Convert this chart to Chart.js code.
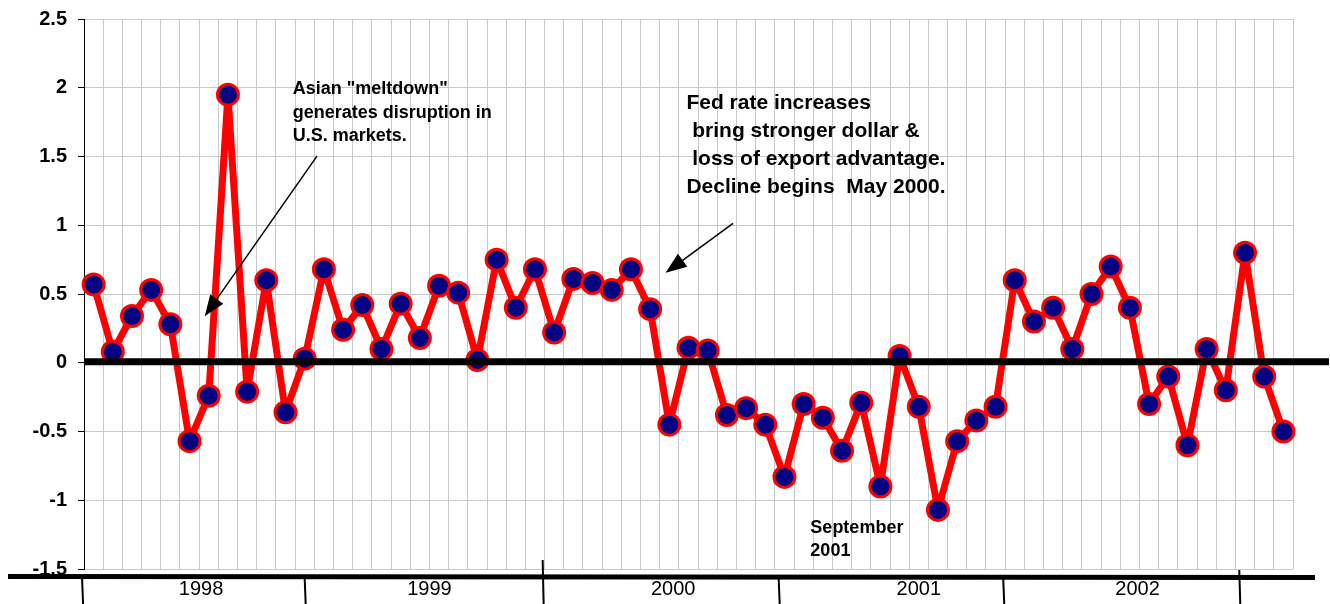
<!DOCTYPE html>
<html>
<head>
<meta charset="utf-8">
<script src="https://cdn.jsdelivr.net/npm/chart.js@4.4.1/dist/chart.umd.min.js"></script>
<style>
  html, body { margin: 0; padding: 0; background: #fff; }
</style>
</head>
<body>
<canvas id="chart" width="1330" height="604"></canvas>
<script>
// Categories: one per month, Jan 1998 .. Mar 2003
const monthNames = ['Jan', 'Feb', 'Mar', 'Apr', 'May', 'Jun', 'Jul', 'Aug', 'Sep', 'Oct', 'Nov', 'Dec'];
const yearNames = ['1998', '1999', '2000', '2001', '2002', '2003'];
const months = [];
yearNames.forEach(y => monthNames.forEach(m => months.push(m + ' ' + y)));
months.length = 63;

// Monthly values
const values = [
  0.57, 0.08, 0.34, 0.53, 0.28, -0.57, -0.24, 1.95, -0.21, 0.60, -0.36, 0.03,
  0.68, 0.24, 0.42, 0.10, 0.43, 0.18, 0.56, 0.51, 0.02, 0.75, 0.40, 0.68,
  0.22, 0.61, 0.58, 0.53, 0.68, 0.39, -0.45, 0.11, 0.09, -0.38, -0.33, -0.45,
  -0.83, -0.30, -0.40, -0.64, -0.29, -0.90, 0.05, -0.32, -1.07, -0.57, -0.42, -0.32,
  0.60, 0.30, 0.40, 0.10, 0.50, 0.70, 0.40, -0.30, -0.10, -0.60, 0.10, -0.20,
  0.80, -0.10, -0.50
];

// Year band under the plot
const yearLabels = ['1998', '1999', '2000', '2001', '2002'];
const yearLabelAt = [5.6, 17.5, 30.2, 43.0, 54.4];     // category index of label centre
const yearTickAt = [-0.6, 11.0, 23.4, 35.7, 47.4, 59.7]; // category index of separators
const yearTickTop = [579, 579, 560, 579, 579, 570];

// y axis
const yMin = -1.5;
const yMax = 2.5;
const yStep = 0.5;

const fontName = "'Liberation Sans', Arial, sans-serif";

// Text notes: [category index, value, line height, font size, lines]
const notes = [
  [10.38, 1.952, 23.3, 18, ['Asian "meltdown"', 'generates disruption in', 'U.S. markets.']],
  [30.89, 1.848, 28, 21, ['Fed rate increases', ' bring stronger dollar &', ' loss of export advantage.', 'Decline begins  May 2000.']],
  [37.35, -1.236, 23, 18, ['September', '2001']]
];

// Arrows: from [index, value] to [index, value]
const arrows = [
  [[11.64, 1.503], [5.79, 0.338]],
  [[33.32, 1.014], [29.81, 0.655]]
];

const decorations = {
  id: 'decorations',
  afterDatasetsDraw(chart) {
    const ctx = chart.ctx;
    const y0 = chart.scales.y.getPixelForValue(0) - 1;
    ctx.save();
    ctx.strokeStyle = '#000';
    ctx.lineWidth = 7;
    ctx.beginPath();
    ctx.moveTo(chart.chartArea.left, y0);
    ctx.lineTo(chart.width - 1, y0);
    ctx.stroke();
    ctx.restore();
  },
  afterDraw(chart) {
    const ctx = chart.ctx;
    const xs = chart.scales.x;
    const ys = chart.scales.y;
    ctx.save();

    // bottom band line
    ctx.strokeStyle = '#000';
    ctx.lineWidth = 5;
    ctx.beginPath();
    ctx.moveTo(8, 576.5);
    ctx.lineTo(1315, 577.5);
    ctx.stroke();

    // year separators
    ctx.lineWidth = 2;
    yearTickAt.forEach((pos, i) => {
      const x = xs.getPixelForValue(pos);
      ctx.beginPath();
      ctx.moveTo(x, yearTickTop[i]);
      ctx.lineTo(x + 1, 604);
      ctx.stroke();
    });

    // year labels
    ctx.fillStyle = '#000';
    ctx.font = '20px ' + fontName;
    ctx.textAlign = 'center';
    ctx.textBaseline = 'alphabetic';
    yearLabels.forEach((label, i) => {
      ctx.fillText(label, xs.getPixelForValue(yearLabelAt[i]), 595);
    });

    // notes
    ctx.textAlign = 'left';
    notes.forEach(([pos, val, lh, size, lines]) => {
      ctx.font = 'bold ' + size + 'px ' + fontName;
      const x = xs.getPixelForValue(pos);
      const y = ys.getPixelForValue(val);
      lines.forEach((line, k) => ctx.fillText(line, x, y + k * lh));
    });

    // arrows
    arrows.forEach(([from, to]) => {
      const x1 = xs.getPixelForValue(from[0]);
      const y1 = ys.getPixelForValue(from[1]);
      const x2 = xs.getPixelForValue(to[0]);
      const y2 = ys.getPixelForValue(to[1]);
      const ang = Math.atan2(y2 - y1, x2 - x1);
      const len = 21;
      const half = 8;
      const bx = x2 - len * Math.cos(ang);
      const by = y2 - len * Math.sin(ang);
      ctx.lineWidth = 1.5;
      ctx.beginPath();
      ctx.moveTo(x1, y1);
      ctx.lineTo(bx, by);
      ctx.stroke();
      ctx.beginPath();
      ctx.moveTo(x2, y2);
      ctx.lineTo(bx + half * Math.sin(ang), by - half * Math.cos(ang));
      ctx.lineTo(bx - half * Math.sin(ang), by + half * Math.cos(ang));
      ctx.closePath();
      ctx.fill();
    });

    ctx.restore();
  }
};

const chart = new Chart(document.getElementById('chart'), {
  type: 'line',
  data: {
    labels: months,
    datasets: [{
      data: values,
      borderColor: '#ff0000',
      borderWidth: 7,
      borderJoinStyle: 'round',
      borderCapStyle: 'round',
      tension: 0,
      pointRadius: 10.5,
      pointBorderWidth: 3,
      pointBackgroundColor: '#000080',
      pointBorderColor: '#ff0000'
    }]
  },
  options: {
    responsive: false,
    animation: false,
    layout: { padding: { top: 19, right: 37, bottom: 0, left: 0 } },
    plugins: {
      legend: { display: false },
      tooltip: { enabled: false }
    },
    scales: {
      x: {
        offset: true,
        grid: { offset: true, color: '#c8c8c8', lineWidth: 1, drawTicks: false },
        border: { display: false },
        ticks: { display: false },
        afterFit(scale) { scale.height = 35; }
      },
      y: {
        min: yMin,
        max: yMax,
        grid: { color: '#c8c8c8', lineWidth: 1, tickLength: 6, tickColor: '#000' },
        border: { color: '#000', width: 1 },
        ticks: {
          stepSize: yStep,
          padding: 11,
          color: '#000',
          font: { family: fontName, size: 20, weight: 'bold' },
          callback: v => String(v)
        },
        afterFit(scale) {
          scale.width = 84;
          scale.paddingTop = 0;
          scale.paddingBottom = 0;
        }
      }
    }
  },
  plugins: [decorations]
});
</script>
</body>
</html>
